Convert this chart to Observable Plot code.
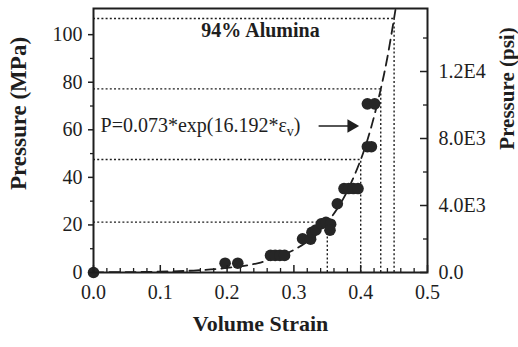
<!DOCTYPE html>
<html>
<head>
<meta charset="utf-8">
<script src="https://cdn.jsdelivr.net/npm/d3@7"></script>
<script src="https://cdn.jsdelivr.net/npm/@observablehq/plot@0.6"></script>
<style>
  html, body { margin: 0; padding: 0; background: #fff; }
  svg { display: block; }
</style>
</head>
<body>
<div id="chart"></div>
<script>
// Measured data points (volume strain, pressure in MPa)
const pointStrain   = [0, 0.197, 0.216, 0.265, 0.272, 0.279, 0.286, 0.313, 0.325, 0.327, 0.333, 0.341, 0.348, 0.355, 0.354, 0.365, 0.375, 0.382, 0.389, 0.396, 0.410, 0.416, 0.410, 0.421];
const pointPressure = [0, 3.9, 3.9, 7.2, 7.2, 7.2, 7.2, 14.2, 14.0, 16.9, 17.9, 20.5, 21.1, 20.3, 17.8, 28.9, 35.3, 35.3, 35.3, 35.3, 52.9, 52.9, 70.9, 70.9];

// Dashed fit curve
const fitStrain   = [0, 0.05, 0.1, 0.15, 0.2, 0.25, 0.3, 0.325, 0.35, 0.375, 0.4, 0.415, 0.43, 0.44, 0.452];
const fitPressure = [0.07, 0.16, 0.37, 0.83, 1.9, 4.2, 9.5, 14.1, 21.1, 31.6, 47.4, 60.4, 77.1, 90.5, 110.4];

// Dotted reference lines (strain, pressure)
const refStrain   = [0.35, 0.40, 0.43, 0.45];
const refPressure = [21.2, 47.5, 77.2, 106.8];

// Axes
const xTicks = [0, 0.1, 0.2, 0.3, 0.4, 0.5];
const xMinor = [0.02, 0.04, 0.06, 0.08, 0.12, 0.14, 0.16, 0.18, 0.22, 0.24, 0.26, 0.28, 0.32, 0.34, 0.36, 0.38, 0.42, 0.44, 0.46, 0.48];
const yTicks = [0, 20, 40, 60, 80, 100];
const yMinor = [10, 30, 50, 70, 90];
const psiTicks  = [0, 4000, 8000, 12000];
const psiLabels = ["0.0", "4.0E3", "8.0E3", "1.2E4"];
const psiMinor  = [2000, 6000, 10000, 14000];
const psiPerMPa = 142;

// Annotation
const titleText = "94% Alumina";
const formulaText = "P=0.073*exp(16.192*εv)";
const formulaPos = [0.0105, 61.6];
const arrowFrom = [0.337, 61.6];
const arrowTo = [0.386, 61.6];

const W = 518, H = 347;
const mL = 93, mR = 91, mT = 8, mB = 75;
const pw = W - mL - mR, ph = H - mT - mB;
const ink = "#1e1e1e";
const ff = "Liberation Serif";

const points = pointStrain.map((s, i) => ({s, p: pointPressure[i]}));
const fit = fitStrain.map((s, i) => ({s, p: fitPressure[i]}));
const refs = refStrain.map((s, i) => ({s, p: refPressure[i]}));

const chart = Plot.plot({
  width: W, height: H,
  marginLeft: mL, marginRight: mR, marginTop: mT, marginBottom: mB,
  style: {fontFamily: ff, background: "#fff"},
  x: {domain: [0, 0.5]},
  y: {domain: [0, 111]},
  marks: [
    // dotted reference lines
    Plot.ruleY(refs, {y: "p", x1: 0, x2: "s", stroke: ink, strokeWidth: 1.4, strokeDasharray: "2,2.2"}),
    Plot.ruleX(refs, {x: "s", y1: 0, y2: "p", stroke: ink, strokeWidth: 1.4, strokeDasharray: "2,2.2"}),
    // fit curve
    Plot.line(fit, {x: "s", y: "p", curve: "catmull-rom", stroke: ink, strokeWidth: 1.8, strokeDasharray: "10,6", clip: true}),
    // data points
    Plot.dot(points, {x: "s", y: "p", r: 5.8, fill: "#262626"}),
    // bottom axis ticks (inward)
    Plot.tickX(xMinor, {x: d => d, insetTop: ph - 4, stroke: ink, strokeWidth: 1.3}),
    Plot.tickX(xTicks, {x: d => d, insetTop: ph - 7, stroke: ink, strokeWidth: 1.5}),
    Plot.axisX({ticks: xTicks, tickSize: 0, tickPadding: 12, tickFormat: d3.format(".1f"), label: null, fontSize: 20, fontFamily: ff, fill: ink}),
    // left axis
    Plot.axisY({ticks: yTicks, tickSize: 5, tickPadding: 6, label: null, fontSize: 20, fontFamily: ff, stroke: ink, strokeWidth: 1.5, fill: ink}),
    Plot.axisY({ticks: yMinor, tickSize: 3, tickFormat: () => "", label: null, stroke: ink, strokeWidth: 1.3}),
    // right axis (psi), ticks inward
    Plot.tickY(psiTicks, {y: d => d / psiPerMPa, insetLeft: pw - 7, stroke: ink, strokeWidth: 1.5}),
    Plot.tickY(psiMinor, {y: d => d / psiPerMPa, insetLeft: pw - 4, stroke: ink, strokeWidth: 1.3}),
    Plot.text(psiTicks, {y: d => d / psiPerMPa, text: (d, i) => psiLabels[i], frameAnchor: "right", dx: 11, textAnchor: "start", fontSize: 20, fontFamily: ff, fill: ink}),
    // frame
    Plot.frame({stroke: ink, strokeWidth: 2}),
    // annotations
    Plot.text([titleText], {frameAnchor: "top", dy: 14, fontSize: 20, fontWeight: "bold", fontFamily: ff, fill: ink}),
    Plot.text([formulaText], {x: formulaPos[0], y: formulaPos[1], textAnchor: "start", fontSize: 20, fontFamily: ff, fill: ink}),
    Plot.link([0], {x1: arrowFrom[0], y1: arrowFrom[1], x2: arrowTo[0], y2: arrowTo[1], stroke: ink, strokeWidth: 1.5}),
    Plot.dot([0], {x: arrowTo[0], y: arrowTo[1], symbol: "triangle", rotate: 90, r: 5, fill: ink, stroke: null}),
    // axis titles
    Plot.text(["Volume Strain"], {frameAnchor: "bottom", dy: 58, fontSize: 22, fontWeight: "bold", fontFamily: ff, fill: ink}),
    Plot.text(["Pressure (MPa)"], {frameAnchor: "left", dx: -75, dy: -27, rotate: -90, textAnchor: "middle", lineAnchor: "middle", fontSize: 23, fontWeight: "bold", fontFamily: ff, fill: ink}),
    Plot.text(["Pressure (psi)"], {frameAnchor: "right", dx: 80, dy: -52, rotate: -90, textAnchor: "middle", lineAnchor: "middle", fontSize: 21, fontWeight: "bold", fontFamily: ff, fill: ink})
  ]
});

// subscript v in the formula
for (const t of chart.querySelectorAll("text")) {
  if (t.textContent === formulaText) {
    t.innerHTML = "P=0.073*exp(16.192*ε<tspan dy='4' font-size='14'>v</tspan><tspan dy='-4'>)</tspan>";
  }
}
document.getElementById("chart").appendChild(chart);
</script>
</body>
</html>
